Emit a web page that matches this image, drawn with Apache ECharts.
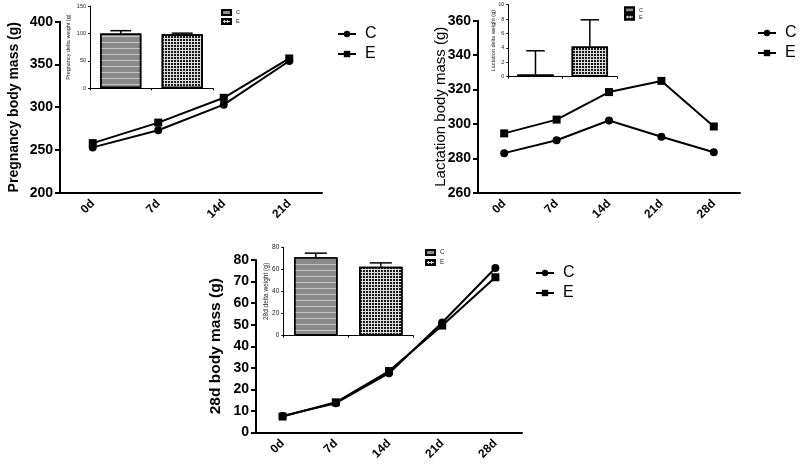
<!DOCTYPE html>
<html>
<head>
<meta charset="utf-8">
<script src="https://cdn.jsdelivr.net/npm/echarts@6/dist/echarts.min.js"></script>
<style>
    html, body {margin: 0; padding: 0; background: #fff;}
    #main {width: 800px; height: 471px;}
</style>
</head>
<body>
<div id="main"></div>
<script>
//x轴天数
var days4 = ['0d', '7d', '14d', '21d'];
var days5 = ['0d', '7d', '14d', '21d', '28d'];
//孕期体重
var pregC = [253, 273, 303, 354];
var pregE = [258, 282, 311, 357];
//哺乳期体重
var lactC = [283, 290.5, 302, 292.5, 283.5];
var lactE = [294.5, 302.5, 318.5, 325, 298.5];
//28天体重
var pupC = [7.7, 13.6, 27.5, 51, 76.3];
var pupE = [7.4, 14, 28.5, 49.6, 72];
//小图：体重变化 (C, E) 及误差
var groups = ['C', 'E'];
var pregDelta = [100, 98.5];
var pregErr = [5, 2];
var lactDelta = [0.3, 4.2];
var lactErr = [3.3, 3.7];
var pupDelta = [71, 62.5];
var pupErr = [3.7, 3.4];

var FONT = '"Liberation Sans", Arial, sans-serif';

//C组柱子花纹：灰底横条
var decalC = {symbol: 'rect', symbolSize: 1, color: 'rgba(255,255,255,0.5)', dashArrayX: [10, 0], dashArrayY: [1, 5]};
//E组柱子花纹：格子
var decalE = {symbol: 'rect', symbolSize: 1, color: '#1a1a1a', dashArrayX: [2, 1], dashArrayY: [2, 1]};

var grids = [], xAxes = [], yAxes = [], series = [], legends = [];

function mainPanel(box, cats, c, e, yMin, yMax, step, yName, nameBold, nameSize, nameGap, tag, leg) {
    var gi = grids.length;
    grids.push({left: box[0], top: box[1], width: box[2], height: box[3], containLabel: false, outerBoundsMode: 'none'});
    xAxes.push({
        type: 'category', gridIndex: gi, data: cats, boundaryGap: true,
        axisLine: {lineStyle: {color: '#000', width: 2}},
        axisTick: {alignWithLabel: true, length: 5, lineStyle: {color: '#000', width: 2}},
        axisLabel: {rotate: 45, margin: 9, color: '#000', fontWeight: 'bold', fontSize: 12, fontFamily: FONT}
    });
    yAxes.push({
        type: 'value', gridIndex: gi, min: yMin, max: yMax, interval: step,
        name: yName, nameLocation: 'middle', nameGap: nameGap, nameMoveOverlap: false,
        nameTextStyle: {color: '#000', fontSize: nameSize, fontWeight: nameBold ? 'bold' : 'normal', fontFamily: FONT},
        splitLine: {show: false},
        axisLine: {show: true, lineStyle: {color: '#000', width: 2}},
        axisTick: {show: true, length: 5, lineStyle: {color: '#000', width: 2}},
        axisLabel: {margin: 7, color: '#000', fontWeight: 'bold', fontSize: 14, fontFamily: FONT}
    });
    var ai = xAxes.length - 1;
    series.push({
        name: 'C|' + tag, type: 'line', xAxisIndex: ai, yAxisIndex: ai, data: c,
        symbol: 'circle', symbolSize: 8, itemStyle: {color: '#000'}, lineStyle: {color: '#000', width: 2}, z: 5
    });
    series.push({
        name: 'E|' + tag, type: 'line', xAxisIndex: ai, yAxisIndex: ai, data: e,
        symbol: 'rect', symbolSize: 8, itemStyle: {color: '#000'}, lineStyle: {color: '#000', width: 2}, z: 5
    });
    legends.push({
        data: ['C|' + tag, 'E|' + tag], orient: 'vertical', left: leg[0], top: leg[1], padding: 0,
        itemWidth: 18, itemHeight: 8, itemGap: 4,
        formatter: function (n) { return n.split('|')[0]; },
        textStyle: {color: '#000', fontSize: 16, fontFamily: FONT, padding: [0, 0, 0, 4]}
    });
}

function errorItem(params, api) {//误差线
    var idx = api.value(0), v = api.value(1), err = api.value(2);
    var base = api.coord([idx, v]);
    var top = api.coord([idx, v + err]);
    var half = api.size([1, 0])[0] * 0.17;
    var st = {stroke: '#000', lineWidth: 1.5};
    return {
        type: 'group', children: [
            {type: 'line', shape: {x1: base[0], y1: base[1], x2: top[0], y2: top[1]}, style: st},
            {type: 'line', shape: {x1: top[0] - half, y1: top[1], x2: top[0] + half, y2: top[1]}, style: st}
        ]
    };
}

function insetPanel(box, vals, errs, yMax, step, yName, fs, nameGap, tag, leg, legGap) {
    var gi = grids.length;
    grids.push({left: box[0], top: box[1], width: box[2], height: box[3], containLabel: false, outerBoundsMode: 'none'});
    xAxes.push({
        type: 'category', gridIndex: gi, data: groups, boundaryGap: true,
        axisLine: {lineStyle: {color: '#000', width: 1}},
        axisTick: {show: true, length: 2, lineStyle: {color: '#000', width: 1}},
        axisLabel: {show: false}
    });
    yAxes.push({
        type: 'value', gridIndex: gi, min: 0, max: yMax, interval: step,
        name: yName, nameLocation: 'middle', nameGap: nameGap, nameMoveOverlap: false,
        nameTextStyle: {color: '#222', fontSize: fs, fontFamily: FONT},
        splitLine: {show: false},
        axisLine: {show: true, lineStyle: {color: '#000', width: 1}},
        axisTick: {show: true, length: 2, lineStyle: {color: '#000', width: 1}},
        axisLabel: {margin: 4, color: '#222', fontSize: fs, fontFamily: FONT}
    });
    var ai = xAxes.length - 1;
    series.push({
        name: 'C|' + tag, type: 'bar', xAxisIndex: ai, yAxisIndex: ai, data: [vals[0], '-'],
        barWidth: '67%', barGap: '-100%',
        itemStyle: {color: '#8a8a8a', borderColor: '#000', borderWidth: 1.5, decal: decalC}
    });
    series.push({
        name: 'E|' + tag, type: 'bar', xAxisIndex: ai, yAxisIndex: ai, data: ['-', vals[1]],
        barWidth: '67%', barGap: '-100%',
        itemStyle: {color: '#dcdcdc', borderColor: '#000', borderWidth: 1.5, decal: decalE}
    });
    var errData = [];
    for (var i = 0; i < vals.length; i++) {
        errData.push([i, vals[i], errs[i]]);
    }
    series.push({
        type: 'custom', xAxisIndex: ai, yAxisIndex: ai, data: errData, renderItem: errorItem, z: 3
    });
    legends.push({
        data: ['C|' + tag, 'E|' + tag], orient: 'vertical', left: leg[0], top: leg[1], padding: 0,
        itemWidth: 9, itemHeight: 5, itemGap: legGap, icon: 'rect',
        formatter: function (n) { return n.split('|')[0]; },
        textStyle: {color: '#222', fontSize: fs, fontFamily: FONT, padding: [0, 0, 0, 0]}
    });
}

//三个主图
mainPanel([60, 21.7, 262, 171], days4, pregC, pregE, 200, 400, 50, 'Pregnancy body mass (g)', true, 14, 39, 'preg', [337, 26]);
mainPanel([478, 20.7, 262, 172], days5, lactC, lactE, 260, 360, 20, 'Lactation body mass (g)', false, 15, 30, 'lact', [757, 25]);
mainPanel([256, 260, 266, 172.5], days5, pupC, pupE, 0, 80, 10, '28d body mass (g)', true, 15.5, 32, 'pup', [535, 265]);
//三个小图
insetPanel([90, 6, 123, 82.3], pregDelta, pregErr, 150, 50, 'Pregnancy delta weight (g)', 5.5, 19, 'pregD', [221, 9], 2);
insetPanel([508.3, 4.7, 108.7, 72], lactDelta, lactErr, 10, 2, 'Lactation delta weight (g)', 5.5, 12, 'lactD', [624, 6.5], 0);
insetPanel([283.3, 247.3, 130, 88.4], pupDelta, pupErr, 80, 20, '28d delta weight (g)', 6.5, 14, 'pupD', [425, 249], 3);

var myChart = echarts.init(document.getElementById('main'));
myChart.setOption({
    backgroundColor: '#fff',
    animation: false,
    textStyle: {fontFamily: FONT},
    grid: grids,
    xAxis: xAxes,
    yAxis: yAxes,
    legend: legends,
    series: series
});
</script>
</body>
</html>
